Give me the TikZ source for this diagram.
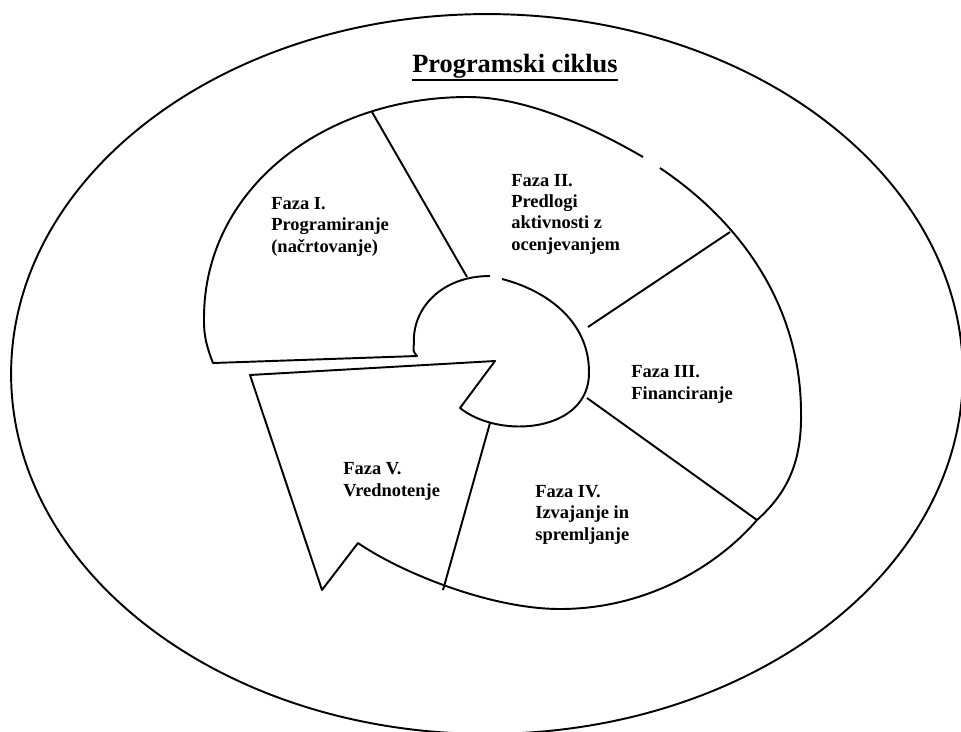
\documentclass[tikz,border=0pt]{standalone}
\usepackage{fontspec}
\setmainfont{Liberation Serif}

\begin{document}
\begin{tikzpicture}[x=0.02cm,y=-0.02cm,
    crta/.style={line width=1.1pt,line join=round},
    faza/.style={anchor=base west,align=left,inner sep=0pt,font=\fontsize{10.5}{12}\selectfont\bfseries},
    naslov/.style={anchor=base west,inner sep=0pt,font=\fontsize{15}{18}\selectfont\bfseries}]
    % Okvir
    \useasboundingbox (0,0) rectangle (961,731);

    % Zunanja elipsa
    \draw[crta] (487,374) ellipse [x radius=9.52cm, y radius=7.2cm];

    % Naslov
    \node[naslov] (naslov) at (412,72) {Programski ciklus};
    \draw[line width=1.3pt] ([yshift=-1pt]naslov.south west) -- ([yshift=-1pt]naslov.south east);

    % Faza I (odprt lok)
    \draw[crta] (490,276) .. controls (440,276) and (412,310) .. (414,343)
        .. controls (413,351) .. (417,356) -- (213,363)
        .. controls (204,340) and (204,330) .. (204,318)
        .. controls (204,190) and (322,97) .. (468,97)
        .. controls (530,97) and (600,132) .. (643,157);

    % Krozna puscica (faze II do V)
    \draw[crta] (660,168) .. controls (745,225) and (801,310) .. (801,413)
        .. controls (802,465) and (785,495) .. (757,520)
        .. controls (720,563) and (650,609) .. (560,609)
        .. controls (490,609) and (400,572) .. (358,543)
        -- (322,590) -- (250,375) -- (495,361) -- (460,408)
        .. controls (500,440) and (590,432) .. (589,372)
        .. controls (589,320) and (545,290) .. (502,279);

    % Pregrade
    \draw[crta] (467,277) -- (372,112);
    \draw[crta] (588,327) -- (730,232);
    \draw[crta] (587,398) -- (757,520);
    \draw[crta] (490,423) -- (443,590);

    % Besedila
    \node[faza] (faza1) at (271,252) {Faza I.\\Programiranje\\(načrtovanje)};
    \node[faza] (faza2) at (511,250) {Faza II.\\Predlogi\\aktivnosti z\\ocenjevanjem};
    \node[faza] (faza3) at (631,399) {Faza III.\\Financiranje};
    \node[faza] (faza4) at (535,540) {Faza IV.\\Izvajanje in\\spremljanje};
    \node[faza] (faza5) at (343,496) {Faza V.\\Vrednotenje};
\end{tikzpicture}
\end{document}
